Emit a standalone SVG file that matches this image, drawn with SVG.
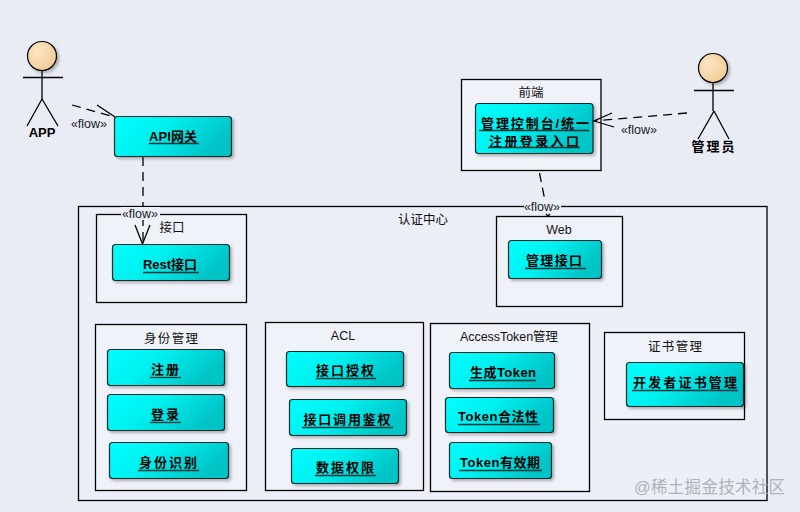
<svg xmlns="http://www.w3.org/2000/svg" width="800" height="512" viewBox="0 0 800 512">
<style>
.bg{fill:#e9ecf4}
.box{fill:#f0f2f9;stroke:#000;stroke-width:1.3}
.outer{fill:#ecEff7;stroke:#000;stroke-width:1.3}
.node{fill:url(#cy);stroke:#0c2a2a;stroke-width:1.2;filter:url(#sh)}
text{font-family:"Liberation Sans","Noto Sans CJK SC",sans-serif;fill:#000}
.t{font-size:13px;font-weight:700;text-anchor:middle}
.u{stroke:#003434;stroke-width:1.3;fill:none}
.g{font-size:12.5px;text-anchor:middle;fill:#111}
.f{font-size:12.5px;text-anchor:middle;fill:#1a1a2a}
.a{font-size:13px;font-weight:700;text-anchor:middle}
.d{stroke:#000;stroke-width:1.3;fill:none;stroke-dasharray:9 6}
.l{stroke:#000;stroke-width:1.3;fill:none}
.head{fill:url(#sk);stroke:#000;stroke-width:1.2;filter:url(#sh)}
</style>
<defs>
<linearGradient id="cy" x1="0" y1="0" x2="1" y2="0.35"><stop offset="0" stop-color="#00ffff"/><stop offset="0.45" stop-color="#00f0f0"/><stop offset="1" stop-color="#00c4c6"/></linearGradient>
<radialGradient id="sk" cx="0.35" cy="0.35" r="0.8"><stop offset="0" stop-color="#fbe6c4"/><stop offset="1" stop-color="#f0c98f"/></radialGradient>
<filter id="sh" x="-10%" y="-15%" width="125%" height="140%"><feDropShadow dx="2" dy="2" stdDeviation="1.5" flood-color="#000" flood-opacity="0.28"/></filter>
</defs>
<rect class="bg" width="800" height="512"/>
<g id="auth-center"><rect class="outer" x="78.5" y="206.5" width="688.5" height="294"/><text class="g" x="423" y="224">认证中心</text></g>
<g id="frontend"><rect class="box" x="461.5" y="79.5" width="139.5" height="91"/><text class="g" x="531" y="97">前端</text></g>
<g id="interface"><rect class="box" x="96.5" y="214.5" width="150" height="88"/><text class="g" x="172" y="232">接口</text></g>
<g id="web"><rect class="box" x="496.5" y="216.5" width="126" height="90"/><text class="g" x="559" y="234">Web</text></g>
<g id="identity"><rect class="box" x="95.5" y="324.5" width="151" height="166"/><text class="g" x="171" y="343" textLength="54" lengthAdjust="spacing">身份管理</text></g>
<g id="acl"><rect class="box" x="265.5" y="322.5" width="158" height="168"/><text class="g" x="343" y="340">ACL</text></g>
<g id="token"><rect class="box" x="430.5" y="323.5" width="159" height="168"/><text class="g" x="509" y="341" textLength="98" lengthAdjust="spacing">AccessToken管理</text></g>
<g id="cert"><rect class="box" x="604.5" y="332.5" width="140" height="87"/><text class="g" x="675" y="351" textLength="54" lengthAdjust="spacing">证书管理</text></g>

<g id="n-api"><rect class="node" x="114.5" y="116.5" width="117" height="40" rx="3"/><text class="t" x="173" y="141" textLength="48" lengthAdjust="spacing">API网关</text><path class="u" d="M149 143.500H199"/></g>
<g id="n-console"><rect class="node" x="475.500" y="103.500" width="117.500" height="50" rx="3"/><text class="t" x="535" y="128" textLength="108" lengthAdjust="spacing">管理控制台/统一</text><path class="u" d="M479 130.500H589"/><text class="t" x="534" y="146" textLength="90" lengthAdjust="spacing">注册登录入口</text><path class="u" d="M488 147.500H580"/></g>
<g id="n-rest"><rect class="node" x="112.500" y="244.500" width="117" height="36" rx="3"/><text class="t" x="170" y="269" textLength="54" lengthAdjust="spacing">Rest接口</text><path class="u" d="M143 272.500H199"/></g>
<g id="n-webapi"><rect class="node" x="508.500" y="240.500" width="93" height="38" rx="3"/><text class="t" x="554" y="265" textLength="56" lengthAdjust="spacing">管理接口</text><path class="u" d="M525 268.500H586"/></g>
<g id="n-reg"><rect class="node" x="107.500" y="349.500" width="117" height="36" rx="3"/><text class="t" x="165" y="374" textLength="28" lengthAdjust="spacing">注册</text><path class="u" d="M150 377.500H181"/></g>
<g id="n-login"><rect class="node" x="107.500" y="394.500" width="117" height="36" rx="3"/><text class="t" x="165" y="419" textLength="28" lengthAdjust="spacing">登录</text><path class="u" d="M150 422.500H181"/></g>
<g id="n-ident"><rect class="node" x="109.500" y="442.500" width="119" height="36" rx="3"/><text class="t" x="168" y="467" textLength="58" lengthAdjust="spacing">身份识别</text><path class="u" d="M138 470.500H199"/></g>
<g id="n-authz"><rect class="node" x="286.500" y="351.500" width="117" height="35" rx="3"/><text class="t" x="345" y="375" textLength="58" lengthAdjust="spacing">接口授权</text><path class="u" d="M316 378.500H376"/></g>
<g id="n-call"><rect class="node" x="289.500" y="399.500" width="117" height="36" rx="3"/><text class="t" x="347" y="424" textLength="87" lengthAdjust="spacing">接口调用鉴权</text><path class="u" d="M302 427.500H393"/></g>
<g id="n-data"><rect class="node" x="291.500" y="448.500" width="107" height="35" rx="3"/><text class="t" x="345" y="472" textLength="58" lengthAdjust="spacing">数据权限</text><path class="u" d="M315 475.500H376"/></g>
<g id="n-gen"><rect class="node" x="449.500" y="352.500" width="105" height="36" rx="3"/><text class="t" x="503" y="377" textLength="66" lengthAdjust="spacing">生成Token</text><path class="u" d="M469 380.500H536"/></g>
<g id="n-valid"><rect class="node" x="445.500" y="397.500" width="108" height="35" rx="3"/><text class="t" x="498" y="421" textLength="80" lengthAdjust="spacing">Token合法性</text><path class="u" d="M458 424.500H540"/></g>
<g id="n-exp"><rect class="node" x="449.500" y="442.500" width="102" height="36" rx="3"/><text class="t" x="500" y="467" textLength="80" lengthAdjust="spacing">Token有效期</text><path class="u" d="M459 470.500H542"/></g>
<g id="n-dev"><rect class="node" x="626.500" y="362.500" width="117" height="44" rx="3"/><text class="t" x="685" y="387" textLength="104" lengthAdjust="spacing">开发者证书管理</text><path class="u" d="M632 390.500H738"/></g>

<g id="actor-app"><circle class="head" cx="42" cy="56" r="14.500"/><path class="l" d="M42 70.500V99M23 77.500H63M42 99L27 126M42 99L58 126"/><text class="a" x="42" y="137">APP</text></g>
<g id="actor-admin"><circle class="head" cx="713" cy="68" r="14.500"/><path class="l" d="M713 82.500V111M694 90.500H734M714 111L698 139M714 111L729 139"/><text class="a" x="713" y="151" textLength="43" lengthAdjust="spacing">管理员</text></g>

<g id="connectors">
<path class="d" d="M72 105L114 117"/><path class="l" d="M97 105L115 117"/>
<path class="d" d="M143 157V244"/><path class="l" d="M135 225L142.500 244L150 225"/>
<path class="d" d="M687 113L594 121"/><path class="l" d="M612 113L594 121L614 127"/>
<path class="d" d="M539.500 173L548 216"/><path class="l" d="M546 214L548 216L550 214"/>
<g id="flow-labels">
<text class="f" x="89" y="128">«flow»</text>
<rect x="121" y="207" width="39" height="13" fill="#ecEff7"/><text class="f" x="140" y="218">«flow»</text>
<text class="f" x="639" y="134">«flow»</text>
<rect x="524" y="200" width="37" height="13" fill="#ecEff7"/><text class="f" x="542" y="211">«flow»</text>
</g>
</g>
<text x="634" y="493" font-size="16.500" textLength="151" lengthAdjust="spacing" style="fill:#b0b2b8">@稀土掘金技术社区</text>
</svg>
